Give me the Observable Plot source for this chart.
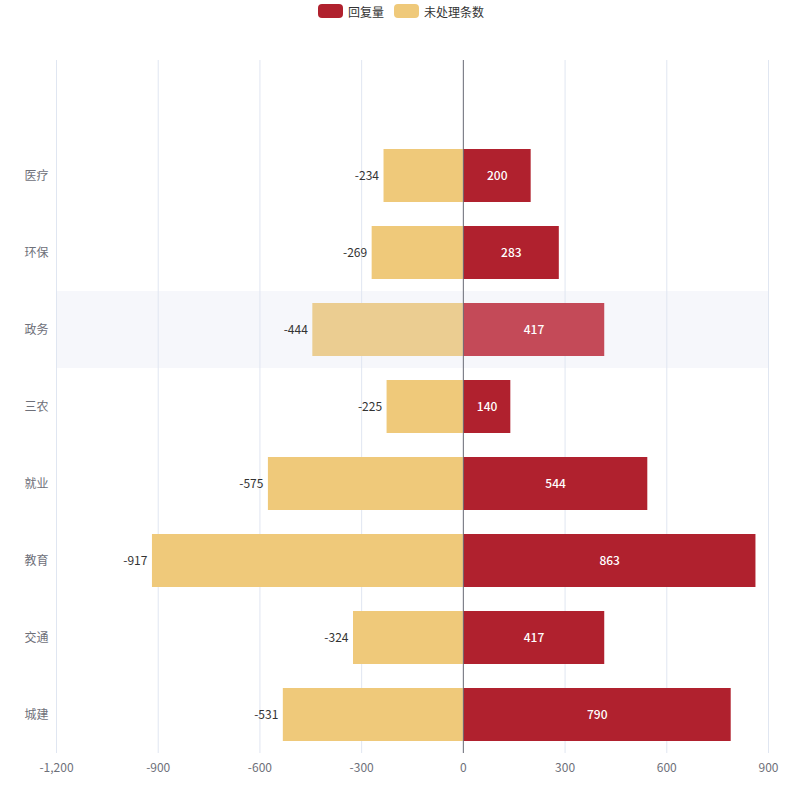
<!DOCTYPE html>
<html><head><meta charset="utf-8">
<script src="https://cdn.jsdelivr.net/npm/d3@7"></script>
<script src="https://cdn.jsdelivr.net/npm/@observablehq/plot@0.6"></script>
<style>
body{margin:0;background:#fff;font-family:"Noto Sans CJK SC","Noto Sans",sans-serif;}
#legend{height:22px;margin-bottom:3px;display:flex;justify-content:center;align-items:center;font-size:12px;color:#333;gap:10px;padding-left:2px;box-sizing:border-box}
.item{display:flex;align-items:center;gap:5px}
.sw{width:25px;height:14px;border-radius:4px;display:inline-block}
</style></head><body>
<div id="legend"></div>
<div id="chart"></div>
<script>
const categories = ["", "医疗", "环保", "政务", "三农", "就业", "教育", "交通", "城建"];
const replies = [null, 200, 283, 417, 140, 544, 863, 417, 790];
const unprocessed = [null, -234, -269, -444, -225, -575, -917, -324, -531];
const xTicks = [-1200, -900, -600, -300, 0, 300, 600, 900];
const seriesNames = ["回复量", "未处理条数"];
const seriesColors = ["#b0212e", "#efc97a"];
const highlightCat = "政务";
const highlightColors = ["#c44a58", "#ebcd91"];

const rows = [];
categories.forEach((c, i) => {
  if (replies[i] != null) rows.push({cat: c, series: seriesNames[0], value: replies[i], hl: c === highlightCat});
  if (unprocessed[i] != null) rows.push({cat: c, series: seriesNames[1], value: unprocessed[i], hl: c === highlightCat});
});
const fillOf = d => d.series === seriesNames[0] ? (d.hl ? highlightColors[0] : seriesColors[0]) : (d.hl ? highlightColors[1] : seriesColors[1]);

const leg = document.getElementById("legend");
seriesNames.forEach((n, i) => {
  const it = document.createElement("div"); it.className = "item";
  it.innerHTML = `<span class="sw" style="background:${seriesColors[i]}"></span><span>${n}</span>`;
  leg.appendChild(it);
});

const fmt = d => d.toLocaleString("en-US");
const pos = rows.filter(d => d.value > 0);
const neg = rows.filter(d => d.value < 0);

const chart = Plot.plot({
  width: 800, height: 775,
  marginTop: 35, marginBottom: 47, marginLeft: 56, marginRight: 32,
  style: {fontFamily: '"Noto Sans CJK SC","Noto Sans",sans-serif', fontSize: "12px", color: "#6e7079"},
  x: {domain: [-1200, 900], ticks: xTicks, tickFormat: fmt, tickSize: 0, tickPadding: 8, label: null},
  y: {domain: categories, padding: 0, label: null, tickSize: 0, tickPadding: 8},
  marks: [
    Plot.barX([{cat: highlightCat}], {x1: -1200, x2: 900, y: "cat", fill: "#f6f7fb"}),
    Plot.ruleX(xTicks, {stroke: "#e0e6f1", strokeWidth: 1}),
    Plot.barX(rows, {x: "value", y: "cat", fill: fillOf, insetTop: 12, insetBottom: 12}),
    Plot.ruleX([0], {stroke: "#6e7079", strokeWidth: 1}),
    Plot.text(pos, {x: d => d.value / 2, y: "cat", text: d => fmt(d.value), fill: "#fff", fontWeight: 500, fontSize: 12}),
    Plot.text(neg, {x: "value", y: "cat", text: d => fmt(d.value), fill: "#333", textAnchor: "end", dx: -5, fontSize: 12}),
    Plot.axisX({ticks: xTicks, tickFormat: fmt, tickSize: 0, tickPadding: 10, fill: "#6e7079"}),
    Plot.axisY({tickSize: 0, tickPadding: 8, fill: "#6e7079", tickFormat: d => d})
  ]
});
document.getElementById("chart").appendChild(chart);
</script>
</body></html>
